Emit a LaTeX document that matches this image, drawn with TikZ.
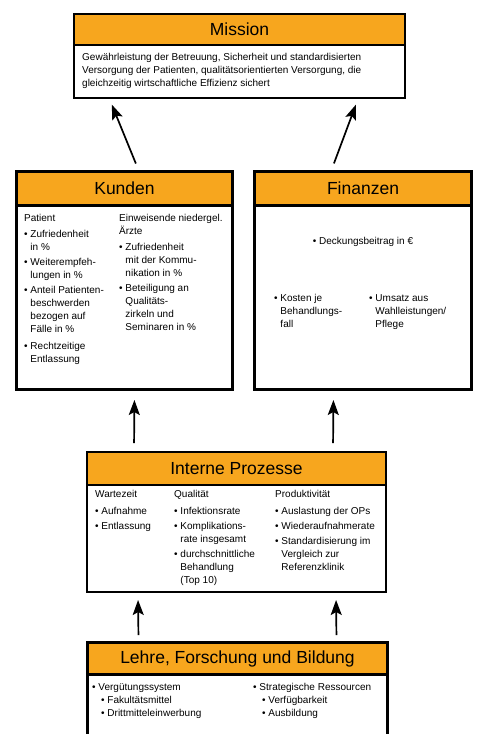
\documentclass[tikz,border=0pt]{standalone}
\usepackage{fontspec}
\setmainfont{Liberation Sans}
\usetikzlibrary{positioning,arrows.meta}
\definecolor{bscorange}{RGB}{247,166,30}
\newcommand{\pk}{\textbullet\ }
\newcommand{\ein}{\phantom{\textbullet\ }}

\begin{document}
\begin{tikzpicture}[x=1pt,y=-1pt,
    kopf/.style={draw, line width=2pt, fill=bscorange, anchor=north west, inner sep=0pt, font=\fontsize{17.5}{20}\selectfont},
    rumpf/.style={draw, line width=2pt, fill=white, anchor=north west, inner sep=0pt},
    spalte/.style={align=left, inner sep=0pt, font=\fontsize{10}{13}\selectfont},
    pfeil/.style={line width=1.7pt, -{Stealth[length=15pt,width=11pt,inset=3pt]}}]
        \useasboundingbox (0,0) rectangle (478,734);
        \clip (0,0) rectangle (478,734);

        % Mission
        \node[rumpf, minimum width=331pt, minimum height=84pt] (missionrumpf) at (73,13) {};
        \node[kopf, minimum width=331pt, minimum height=31pt] (missionkopf) at (73,13) {Mission};
        \node[spalte, below right=7pt and 9pt of missionkopf.south west] (missiontext) {Gewährleistung der Betreuung, Sicherheit und standardisierten\\
            Versorgung der Patienten, qualitätsorientierten Versorgung, die\\
            gleichzeitig wirtschaftliche Effizienz sichert};

        % Kunden
        \node[rumpf, line width=3pt, minimum width=216pt, minimum height=218pt] (kundenrumpf) at (15,170) {};
        \node[kopf, line width=3pt, minimum width=216pt, minimum height=34pt] (kundenkopf) at (15,170) {Kunden};
        \node[spalte, below right=7pt and 9pt of kundenkopf.south west] (patient) {Patient\\[3pt]
            \pk Zufriedenheit\\\ein in \%\\[2pt]
            \pk Weiterempfeh-\\\ein lungen in \%\\[2pt]
            \pk Anteil Patienten-\\\ein beschwerden\\\ein bezogen auf\\\ein Fälle in \%\\[4pt]
            \pk Rechtzeitige\\\ein Entlassung};
        \node[spalte, below right=7pt and 104pt of kundenkopf.south west] (einweiser) {Einweisende niedergel.\\Ärzte\\[3pt]
            \pk Zufriedenheit\\\ein mit der Kommu-\\\ein nikation in \%\\[2pt]
            \pk Beteiligung an\\\ein Qualitäts-\\\ein zirkeln und\\\ein Seminaren in \%};

        % Finanzen
        \node[rumpf, line width=3pt, minimum width=217pt, minimum height=218pt] (finanzenrumpf) at (253,170) {};
        \node[kopf, line width=3pt, minimum width=217pt, minimum height=34pt] (finanzenkopf) at (253,170) {Finanzen};
        \node[spalte, below=30pt of finanzenkopf.south] (deckung) {\pk Deckungsbeitrag in €};
        \node[spalte, below right=87pt and 21pt of finanzenkopf.south west] (kosten) {\pk Kosten je\\\ein Behandlungs-\\\ein fall};
        \node[spalte, below right=87pt and 116pt of finanzenkopf.south west] (umsatz) {\pk Umsatz aus\\\ein Wahlleistungen/\\\ein Pflege};

        % Interne Prozesse
        \node[rumpf, minimum width=299pt, minimum height=140pt] (iprumpf) at (86,451) {};
        \node[kopf, minimum width=299pt, minimum height=33pt] (ipkopf) at (86,451) {Interne Prozesse};
        \node[spalte, below right=4pt and 9pt of ipkopf.south west] (wartezeit) {Wartezeit\\[4pt]
            \pk Aufnahme\\[2pt]
            \pk Entlassung};
        \node[spalte, below right=4pt and 88pt of ipkopf.south west] (qualitaet) {Qualität\\[4pt]
            \pk Infektionsrate\\[2pt]
            \pk Komplikations-\\\ein rate insgesamt\\[2pt]
            \pk durchschnittliche\\\ein Behandlung\\\ein (Top 10)};
        \node[spalte, below right=4pt and 189pt of ipkopf.south west] (produktiv) {Produktivität\\[4pt]
            \pk Auslastung der OPs\\[2pt]
            \pk Wiederaufnahmerate\\[2pt]
            \pk Standardisierung im\\\ein Vergleich zur\\\ein Referenzklinik};

        % Lehre, Forschung und Bildung
        \node[rumpf, line width=3pt, minimum width=300pt, minimum height=120pt] (lehrerumpf) at (86,641) {};
        \node[kopf, line width=3pt, minimum width=300pt, minimum height=32pt] (lehrekopf) at (86,641) {Lehre, Forschung und Bildung};
        \node[spalte, below right=7pt and 6pt of lehrekopf.south west] (verguetung) {\pk Vergütungssystem\\
            \hspace*{9pt}\pk Fakultätsmittel\\
            \hspace*{9pt}\pk Drittmitteleinwerbung};
        \node[spalte, below right=7pt and 167pt of lehrekopf.south west] (ressourcen) {\pk Strategische Ressourcen\\
            \hspace*{9pt}\pk Verfügbarkeit\\
            \hspace*{9pt}\pk Ausbildung};

        % Pfeile
        \draw[pfeil, shorten <=7pt, shorten >=6pt] ([xshift=14pt]kundenkopf.north) -- ([xshift=-130pt]missionrumpf.south);
        \draw[pfeil, shorten <=7pt, shorten >=6pt] ([xshift=-31.5pt]finanzenkopf.north) -- ([xshift=118.5pt]missionrumpf.south);
        \draw[pfeil, shorten <=8pt, shorten >=9pt] ([xshift=-102.5pt]ipkopf.north) -- ([xshift=10pt]kundenrumpf.south);
        \draw[pfeil, shorten <=8pt, shorten >=9pt] ([xshift=96.5pt]ipkopf.north) -- ([xshift=-29.5pt]finanzenrumpf.south);
        \draw[pfeil, shorten <=6pt, shorten >=7pt] ([xshift=-99pt]lehrekopf.north) -- ([xshift=-98.5pt]iprumpf.south);
        \draw[pfeil, shorten <=6pt, shorten >=7pt] ([xshift=99pt]lehrekopf.north) -- ([xshift=99.5pt]iprumpf.south);
    \end{tikzpicture}
\end{document}
